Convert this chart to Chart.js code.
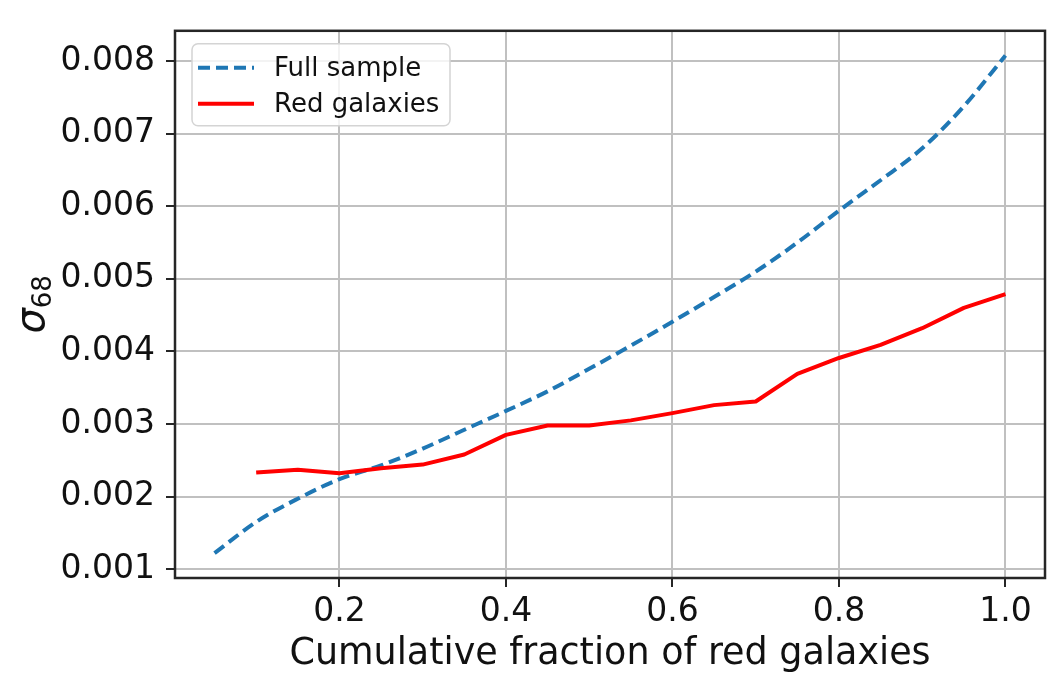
<!DOCTYPE html>
<html>
<head>
<meta charset="utf-8">
<script src="https://cdn.jsdelivr.net/npm/chart.js@4.4.1/dist/chart.umd.min.js"></script>
<style>
  html, body { margin: 0; padding: 0; background: #fff; }
  #wrap { width: 1058px; height: 679px; position: relative; }
</style>
</head>
<body>
<div id="wrap"><canvas id="chartSigma"></canvas></div>
<script>
// sigma_68 vs cumulative fraction of red galaxies
const fracFull = [0.05, 0.10, 0.15, 0.20, 0.25, 0.30, 0.35, 0.40, 0.45, 0.50,
                  0.55, 0.60, 0.65, 0.70, 0.75, 0.80, 0.85, 0.90, 0.95, 1.00];
const sigmaFull = [0.00122, 0.00165, 0.00197, 0.00224, 0.00243, 0.00266, 0.00292, 0.00318, 0.00345, 0.00376,
                   0.00408, 0.00441, 0.00475, 0.00510, 0.00550, 0.00594, 0.00636, 0.00680, 0.00738, 0.00808];

const fracRed = [0.10, 0.15, 0.20, 0.25, 0.30, 0.35, 0.40, 0.45, 0.50, 0.55,
                 0.60, 0.65, 0.70, 0.75, 0.80, 0.85, 0.90, 0.95, 1.00];
const sigmaRed = [0.00233, 0.00237, 0.00232, 0.00239, 0.00244, 0.00258, 0.00285, 0.00298, 0.00298, 0.00305,
                  0.00315, 0.00326, 0.00331, 0.00369, 0.00391, 0.00409, 0.00432, 0.00460, 0.00479];

const xTicks = [0.2, 0.4, 0.6, 0.8, 1.0];
const yTicks = [0.001, 0.002, 0.003, 0.004, 0.005, 0.006, 0.007, 0.008];

const FONT = "'DejaVu Sans', sans-serif";
const INK = '#111';

const toPoints = (xs, ys) => xs.map((x, i) => ({ x: x, y: ys[i] }));

// box around the axes, drawn on top of the curves
const frame = {
  id: 'frame',
  afterDatasetsDraw(chart) {
    const { ctx, chartArea: a } = chart;
    ctx.save();
    ctx.strokeStyle = '#262626';
    ctx.lineWidth = 2.5;
    ctx.strokeRect(a.left, a.top, a.right - a.left, a.bottom - a.top);
    ctx.restore();
  }
};

// rotated y label: italic sigma with subscript 68
const yLabel = {
  id: 'yLabel',
  afterDraw(chart) {
    const { ctx, chartArea: a } = chart;
    const cy = (a.top + a.bottom) / 2;
    ctx.save();
    ctx.translate(44, cy);
    ctx.rotate(-Math.PI / 2);
    ctx.fillStyle = INK;
    ctx.textBaseline = 'alphabetic';
    ctx.textAlign = 'left';
    ctx.font = `italic 40px ${FONT}`;
    const w1 = ctx.measureText('σ').width;
    ctx.font = `26px ${FONT}`;
    const w2 = ctx.measureText('68').width;
    const x0 = -(w1 + w2) / 2;
    ctx.font = `italic 40px ${FONT}`;
    ctx.fillText('σ', x0, 0);
    ctx.font = `26px ${FONT}`;
    ctx.fillText('68', x0 + w1, 7);
    ctx.restore();
  }
};

// legend in the upper left corner of the plot
const legendBox = {
  id: 'legendBox',
  afterDraw(chart) {
    const { ctx, chartArea: a } = chart;
    const bx = a.left + 17, by = a.top + 13, bw = 258, bh = 82;
    ctx.save();
    ctx.beginPath();
    ctx.roundRect(bx, by, bw, bh, 6);
    ctx.fillStyle = 'rgba(255,255,255,0.8)';
    ctx.fill();
    ctx.strokeStyle = '#d4d4d4';
    ctx.lineWidth = 1.5;
    ctx.stroke();

    ctx.font = `26px ${FONT}`;
    ctx.textBaseline = 'middle';
    ctx.textAlign = 'left';
    chart.data.datasets.forEach((ds, i) => {
      const y = by + 24 + i * 36;
      ctx.beginPath();
      ctx.setLineDash(ds.borderDash || []);
      ctx.strokeStyle = ds.borderColor;
      ctx.lineWidth = ds.borderWidth;
      ctx.moveTo(bx + 6, y);
      ctx.lineTo(bx + 62, y);
      ctx.stroke();
      ctx.setLineDash([]);
      ctx.fillStyle = INK;
      ctx.fillText(ds.label, bx + 82, y + 1);
    });
    ctx.restore();
  }
};

new Chart(document.getElementById('chartSigma'), {
  type: 'line',
  data: {
    datasets: [{
      label: 'Full sample',
      data: toPoints(fracFull, sigmaFull),
      borderColor: '#1f77b4',
      borderWidth: 4,
      borderDash: [12, 6],
      borderCapStyle: 'butt',
      cubicInterpolationMode: 'monotone',
      pointRadius: 0,
      order: 1
    }, {
      label: 'Red galaxies',
      data: toPoints(fracRed, sigmaRed),
      borderColor: '#ff0000',
      borderWidth: 4,
      borderJoinStyle: 'round',
      pointRadius: 0,
      tension: 0,
      order: 0
    }]
  },
  options: {
    responsive: true,
    maintainAspectRatio: false,
    animation: false,
    layout: { padding: { left: 0, right: 13, top: 10, bottom: 0 } },
    plugins: {
      legend: { display: false },
      tooltip: { enabled: false }
    },
    scales: {
      x: {
        type: 'linear',
        min: 0.0025,
        max: 1.0475,
        afterBuildTicks: s => { s.ticks = xTicks.map(v => ({ value: v })); },
        afterFit: s => { s.height = 101; },
        border: { display: false },
        grid: { color: '#c0c0c0', lineWidth: 2, tickLength: 9, tickColor: '#262626', tickWidth: 2 },
        ticks: {
          autoSkip: false,
          maxRotation: 0,
          padding: 6,
          color: INK,
          font: { family: FONT, size: 33 },
          callback: v => v.toFixed(1)
        },
        title: {
          display: true,
          text: 'Cumulative fraction of red galaxies',
          color: INK,
          font: { family: FONT, size: 36.5, lineHeight: 1 },
          padding: { top: 0, bottom: 6 }
        }
      },
      y: {
        type: 'linear',
        min: 0.000877,
        max: 0.00842,
        afterBuildTicks: s => { s.ticks = yTicks.map(v => ({ value: v })); },
        afterFit: s => { s.width = 175; },
        border: { display: false },
        grid: { color: '#c0c0c0', lineWidth: 2, tickLength: 9, tickColor: '#262626', tickWidth: 2 },
        ticks: {
          autoSkip: false,
          padding: 11,
          color: INK,
          font: { family: FONT, size: 33 },
          callback: v => v.toFixed(3)
        }
      }
    }
  },
  plugins: [frame, yLabel, legendBox]
});
</script>
</body>
</html>
